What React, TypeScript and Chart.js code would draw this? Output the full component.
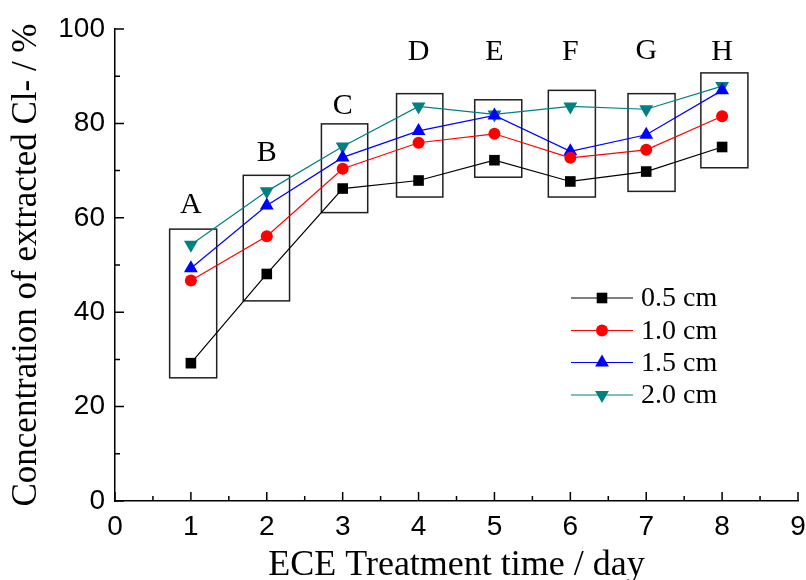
import React, { useEffect, useRef } from "react";
import { Chart, registerables } from "chart.js";

Chart.register(...registerables);

// ---- data ----
const days = [1, 2, 3, 4, 5, 6, 7, 8];
const seriesLabels = ["0.5 cm", "1.0 cm", "1.5 cm", "2.0 cm"];
const s05 = [29.2, 48.1, 66.2, 67.9, 72.2, 67.7, 69.8, 75.0];
const s10 = [46.7, 56.1, 70.4, 75.9, 77.8, 72.7, 74.4, 81.5];
const s15 = [49.3, 62.6, 72.8, 78.4, 81.7, 74.1, 77.6, 87.0];
const s20 = [54.3, 65.6, 75.1, 83.6, 81.9, 83.6, 83.0, 87.9];

const groupLabels = ["A", "B", "C", "D", "E", "F", "G", "H"];
const groupLabelY = [62.6, 73.7, 83.6, 95.1, 95.1, 95.1, 95.3, 95.0];
const boxXMin = [0.72, 1.69, 2.72, 3.71, 4.74, 5.71, 6.76, 7.72];
const boxXMax = [1.34, 2.3, 3.33, 4.32, 5.36, 6.33, 7.38, 8.34];
const boxYMin = [26.1, 42.4, 61.1, 64.4, 68.6, 64.4, 65.6, 70.6];
const boxYMax = [57.6, 69.0, 79.9, 86.3, 85.0, 87.0, 86.3, 90.7];

const xMin = 0;
const xMax = 9;
const yMin = 0;
const yMax = 100;

const colors = ["#000000", "#ff0000", "#0000ff", "#008080"];
const pointStyles = ["rect", "circle", "triangle", "triangle"];
const pointRotations = [0, 0, 0, 180];
const pointRadii = [7.5, 6, 8, 8];

const serif = '"Liberation Serif", "Times New Roman", serif';
const sans = '"Liberation Sans", Arial, sans-serif';

function drawMarker(ctx: CanvasRenderingContext2D, style: string, rot: number, r: number, x: number, y: number, color: string) {
  ctx.save();
  ctx.fillStyle = color;
  ctx.beginPath();
  if (style === "rect") {
    const s = Math.SQRT1_2 * r;
    ctx.rect(x - s, y - s, 2 * s, 2 * s);
  } else if (style === "circle") {
    ctx.arc(x, y, r, 0, Math.PI * 2);
  } else {
    let rad = (rot * Math.PI) / 180;
    for (let k = 0; k < 3; k++) {
      const px = x + Math.sin(rad) * r;
      const py = y - Math.cos(rad) * r;
      if (k === 0) ctx.moveTo(px, py);
      else ctx.lineTo(px, py);
      rad += (2 * Math.PI) / 3;
    }
    ctx.closePath();
  }
  ctx.fill();
  ctx.restore();
}

const annotPlugin = {
  id: "annot",
  beforeDatasetsDraw(chart: any) {
    const { ctx } = chart;
    const x = chart.scales.x;
    const y = chart.scales.y;
    ctx.save();
    ctx.strokeStyle = "#202020";
    ctx.lineWidth = 1.5;
    for (let i = 0; i < boxXMin.length; i++) {
      const x0 = x.getPixelForValue(boxXMin[i]);
      const x1 = x.getPixelForValue(boxXMax[i]);
      const y0 = y.getPixelForValue(boxYMax[i]);
      const y1 = y.getPixelForValue(boxYMin[i]);
      ctx.strokeRect(x0, y0, x1 - x0, y1 - y0);
    }
    ctx.fillStyle = "#000";
    ctx.font = `30px ${serif}`;
    ctx.textAlign = "center";
    ctx.textBaseline = "middle";
    for (let i = 0; i < groupLabels.length; i++) {
      ctx.fillText(groupLabels[i], x.getPixelForValue(days[i]), y.getPixelForValue(groupLabelY[i]));
    }
    ctx.restore();
  },
  afterDraw(chart: any) {
    const { ctx } = chart;
    const x = chart.scales.x;
    const y = chart.scales.y;
    const area = chart.chartArea;
    ctx.save();
    ctx.strokeStyle = "#000";
    ctx.lineWidth = 1.5;
    ctx.beginPath();
    // x ticks (inward)
    const xt = x.ticks.map((t: any) => t.value);
    for (let i = 0; i < xt.length; i++) {
      const px = x.getPixelForValue(xt[i]);
      ctx.moveTo(px, area.bottom);
      ctx.lineTo(px, area.bottom - 9);
      if (i < xt.length - 1) {
        const pm = x.getPixelForValue((xt[i] + xt[i + 1]) / 2);
        ctx.moveTo(pm, area.bottom);
        ctx.lineTo(pm, area.bottom - 5);
      }
    }
    const yt = y.ticks.map((t: any) => t.value);
    for (let i = 0; i < yt.length; i++) {
      const py = y.getPixelForValue(yt[i]);
      ctx.moveTo(area.left, py);
      ctx.lineTo(area.left + 9, py);
      if (i < yt.length - 1) {
        const pm = y.getPixelForValue((yt[i] + yt[i + 1]) / 2);
        ctx.moveTo(area.left, pm);
        ctx.lineTo(area.left + 5, pm);
      }
    }
    ctx.stroke();

    // legend
    const lx0 = 571;
    const lx1 = 633;
    const lm = 602;
    const ltx = 641;
    const rows = [298, 330.5, 362.5, 395];
    ctx.font = `28px ${serif}`;
    ctx.textAlign = "left";
    ctx.textBaseline = "middle";
    for (let i = 0; i < seriesLabels.length; i++) {
      const ry = rows[i];
      ctx.strokeStyle = colors[i];
      ctx.lineWidth = 1.2;
      ctx.beginPath();
      ctx.moveTo(lx0, ry);
      ctx.lineTo(lx1, ry);
      ctx.stroke();
      drawMarker(ctx, pointStyles[i], pointRotations[i], pointRadii[i], lm, ry, colors[i]);
      ctx.fillStyle = "#000";
      ctx.fillText(seriesLabels[i], ltx, ry + 1);
    }
    ctx.restore();
  },
};

export default function App() {
  const ref = useRef<HTMLCanvasElement | null>(null);
  useEffect(() => {
    if (!ref.current) return;
    const all = [s05, s10, s15, s20];
    const chart = new Chart(ref.current, {
      type: "scatter",
      data: {
        datasets: all.map((vals, i) => ({
          label: seriesLabels[i],
          data: days.map((d, j) => ({ x: d, y: vals[j] })),
          showLine: true,
          borderColor: colors[i],
          backgroundColor: colors[i],
          borderWidth: 1.2,
          pointStyle: pointStyles[i] as any,
          rotation: pointRotations[i],
          pointRadius: pointRadii[i],
          pointBorderWidth: 0,
          pointBackgroundColor: colors[i],
          tension: 0,
        })),
      },
      options: {
        animation: false,
        responsive: false,
        layout: { padding: { left: 0, right: 8, top: 29, bottom: 0 } },
        plugins: { legend: { display: false }, tooltip: { enabled: false } },
        scales: {
          x: {
            type: "linear",
            min: xMin,
            max: xMax,
            border: { display: true, color: "#000", width: 1.5 },
            grid: { display: false, drawTicks: false },
            ticks: { stepSize: 1, padding: 9, color: "#000", font: { family: sans, size: 28 } },
            title: {
              display: true,
              text: "ECE Treatment time / day",
              color: "#000",
              font: { family: serif, size: 36 },
              padding: { top: 0, bottom: -7 },
            },
            afterFit(scale: any) {
              scale.height = 79;
              scale.paddingLeft = 0;
              scale.paddingRight = 0;
            },
          },
          y: {
            type: "linear",
            min: yMin,
            max: yMax,
            border: { display: true, color: "#000", width: 1.5 },
            grid: { display: false, drawTicks: false },
            ticks: { stepSize: 20, padding: 10, color: "#000", font: { family: sans, size: 28 } },
            title: {
              display: true,
              text: "Concentration of extracted Cl- / %",
              color: "#000",
              font: { family: serif, size: 35 },
              padding: { top: 6, bottom: 0 },
            },
            afterFit(scale: any) {
              scale.width = 115;
              scale.paddingTop = 0;
              scale.paddingBottom = 0;
            },
          },
        },
      },
      plugins: [annotPlugin],
    });
    return () => chart.destroy();
  }, []);
  return (
    <div style={{ position: "absolute", left: 0, top: 0, width: 806, height: 580, background: "#fff" }}>
      <canvas ref={ref} width={806} height={580} />
    </div>
  );
}
